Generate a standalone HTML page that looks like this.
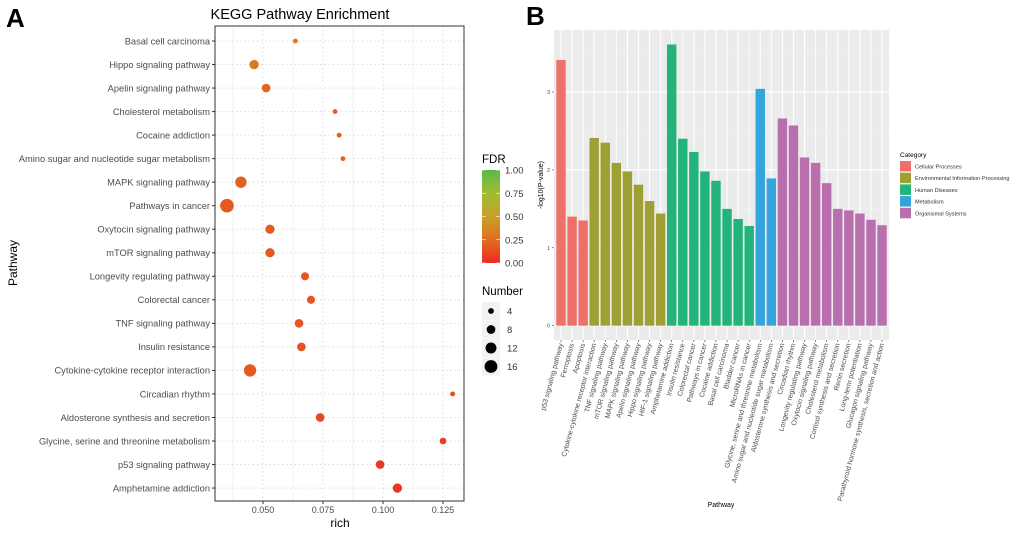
<!DOCTYPE html>
<html><head><meta charset="utf-8">
<style>
html,body{margin:0;padding:0;background:#fff;}
svg{display:block;font-family:"Liberation Sans",Arial,sans-serif;}
</style></head>
<body>
<svg id="c" width="1020" height="535" viewBox="0 0 1020 535" xmlns="http://www.w3.org/2000/svg"></svg>
<script>
// ---- Panel A data ----
const pathwaysA = ["Basal cell carcinoma","Hippo signaling pathway","Apelin signaling pathway","Cholesterol metabolism","Cocaine addiction","Amino sugar and nucleotide sugar metabolism","MAPK signaling pathway","Pathways in cancer","Oxytocin signaling pathway","mTOR signaling pathway","Longevity regulating pathway","Colorectal cancer","TNF signaling pathway","Insulin resistance","Cytokine-cytokine receptor interaction","Circadian rhythm","Aldosterone synthesis and secretion","Glycine, serine and threonine metabolism","p53 signaling pathway","Amphetamine addiction"];
const richA = [0.0635,0.0463,0.0513,0.080,0.0817,0.0833,0.0408,0.035,0.0529,0.0529,0.0675,0.070,0.065,0.066,0.0446,0.129,0.0738,0.125,0.0988,0.106];
const countA = [3,9,8,3,3,3,13,18,9,9,7,7,8,8,15,3,8,5,8,9];
const fdrA = [0.30,0.30,0.22,0.20,0.20,0.20,0.20,0.18,0.18,0.18,0.16,0.16,0.16,0.16,0.18,0.12,0.12,0.08,0.06,0.06];
const xTicksA = [0.050,0.075,0.100,0.125];
const xTickLabelsA = ["0.050","0.075","0.100","0.125"];
const fdrTicks = [0,0.25,0.5,0.75,1];
const fdrTickLabels = ["0.00","0.25","0.50","0.75","1.00"];
const sizeKeys = [4,8,12,16];
// ---- Panel B data ----
const pathwaysB = ["p53 signaling pathway","Ferroptosis","Apoptosis","Cytokine-cytokine receptor interaction","TNF signaling pathway","mTOR signaling pathway","MAPK signaling pathway","Apelin signaling pathway","Hippo signaling pathway","HIF-1 signaling pathway","Amphetamine addiction","Insulin resistance","Colorectal cancer","Pathways in cancer","Cocaine addiction","Basal cell carcinoma","Bladder cancer","MicroRNAs in cancer","Glycine, serine and threonine metabolism","Amino sugar and nucleotide sugar metabolism","Aldosterone synthesis and secretion","Circadian rhythm","Longevity regulating pathway","Oxytocin signaling pathway","Cholesterol metabolism","Cortisol synthesis and secretion","Renin secretion","Long-term potentiation","Glucagon signaling pathway","Parathyroid hormone synthesis, secretion and action"];
const valuesB = [3.41,1.40,1.35,2.41,2.35,2.09,1.98,1.81,1.60,1.44,3.61,2.40,2.23,1.98,1.86,1.50,1.37,1.28,3.04,1.89,2.66,2.57,2.16,2.09,1.83,1.50,1.48,1.44,1.36,1.29];
const categoryB = [0,0,0,1,1,1,1,1,1,1,2,2,2,2,2,2,2,2,3,3,4,4,4,4,4,4,4,4,4,4];
const categoryNames = ["Cellular Processes","Environmental Information Processing","Human Diseases","Metabolism","Organismal Systems"];
const yTicksB = [0,1,2,3];

const NS="http://www.w3.org/2000/svg";
const svg=document.getElementById('c');
function mk(tag,attrs,parent,text){const e=document.createElementNS(NS,tag);for(const k in attrs)e.setAttribute(k,attrs[k]);if(text!==undefined)e.textContent=text;(parent||svg).appendChild(e);return e;}

// Panel labels
let t=mk('text',{x:6,y:27,'font-size':26,'font-weight':'bold',fill:'#000'},svg,'A');


t=mk('text',{x:526,y:25,'font-size':26,'font-weight':'bold',fill:'#000'},svg,'B');



// ===== Panel A =====
const A={l:215,r:464,t:26,b:501};
const xA=v=>263+(v-0.05)*2400;
const yA=i=>41+i*23.53;
const rA=n=>1.75*Math.sqrt(n)-0.6;
function fdrColor(f){
  const stops=[[0,[236,40,36]],[0.25,[226,110,32]],[0.5,[200,160,40]],[0.75,[160,190,50]],[1,[90,185,72]]];
  for(let i=0;i<stops.length-1;i++){const[a,ca]=stops[i],[b,cb]=stops[i+1];if(f<=b){const u=(f-a)/(b-a);return 'rgb('+ca.map((c,j)=>Math.round(c+(cb[j]-c)*u)).join(',')+')';}}
  return 'rgb(90,185,72)';
}
const gA=mk('g',{});


t=mk('text',{x:300,y:19,'font-size':14.5,'text-anchor':'middle',fill:'#000'},gA,'KEGG Pathway Enrichment');


// grid
[0.0375,0.0625,0.0875,0.1125].forEach(v=>{mk('line',{x1:xA(v),x2:xA(v),y1:A.t,y2:A.b,stroke:'#e6e6e6','stroke-width':0.6},gA);});
xTicksA.forEach(v=>{mk('line',{x1:xA(v),x2:xA(v),y1:A.t,y2:A.b,stroke:'#ccc','stroke-width':0.8,'stroke-dasharray':'1.2,3'},gA);});
pathwaysA.forEach((p,i)=>{mk('line',{x1:A.l,x2:A.r,y1:yA(i),y2:yA(i),stroke:'#ccc','stroke-width':0.8,'stroke-dasharray':'1.2,3'},gA);});
mk('rect',{x:A.l,y:A.t,width:A.r-A.l,height:A.b-A.t,fill:'none',stroke:'#333','stroke-width':1},gA);
// y labels
pathwaysA.forEach((p,i)=>{
  mk('line',{x1:A.l-3,x2:A.l,y1:yA(i),y2:yA(i),stroke:'#333'},gA);
  const l=mk('text',{x:A.l-5,y:yA(i)+3.3,'font-size':9.3,'text-anchor':'end',fill:'#4d4d4d'},gA,p);
  
  
});
xTicksA.forEach((v,i)=>{
  mk('line',{x1:xA(v),x2:xA(v),y1:A.b,y2:A.b+3,stroke:'#333'},gA);
  const l=mk('text',{x:xA(v),y:A.b+12,'font-size':9,'text-anchor':'middle',fill:'#4d4d4d'},gA,xTickLabelsA[i]);
  
  
});
t=mk('text',{x:340,y:527,'font-size':12,'text-anchor':'middle',fill:'#000'},gA,'rich');


t=mk('text',{x:0,y:0,'font-size':12,'text-anchor':'middle',fill:'#000',transform:'translate(17,263) rotate(-90)'},gA,'Pathway');


pathwaysA.forEach((p,i)=>{
  const c=mk('circle',{cx:xA(richA[i]),cy:yA(i),r:rA(countA[i]),fill:fdrColor(fdrA[i])},gA);
  
  
});
// FDR legend
const lg=mk('g',{});


mk('text',{x:482,y:163,'font-size':11.5,fill:'#000'},lg,'FDR');
const defs=mk('defs',{});
const grad=mk('linearGradient',{id:'fg',x1:0,y1:1,x2:0,y2:0},defs);
for(let k=0;k<=10;k++){mk('stop',{offset:k/10,'stop-color':fdrColor(k/10)},grad);}
const cbT=170,cbB=263;
mk('rect',{x:482,y:cbT,width:18,height:cbB-cbT,fill:'url(#fg)'},lg);
fdrTicks.forEach((v,i)=>{const y=cbB-v*(cbB-cbT);
  mk('line',{x1:482,x2:486,y1:y,y2:y,stroke:'#fff','stroke-width':0.6},lg);
  mk('line',{x1:496,x2:500,y1:y,y2:y,stroke:'#fff','stroke-width':0.6},lg);
  mk('text',{x:505,y:y+3.5,'font-size':9.5,fill:'#333'},lg,fdrTickLabels[i]);});
const ng=mk('g',{});


mk('text',{x:482,y:295,'font-size':11.5,fill:'#000'},ng,'Number');
sizeKeys.forEach((n,i)=>{const y=311+i*18.5;
  mk('rect',{x:482,y:y-9,width:18,height:18,fill:'#f2f2f2'},ng);
  mk('circle',{cx:491,cy:y,r:rA(n),fill:'#000'},ng);
  mk('text',{x:507,y:y+3.5,'font-size':9.5,fill:'#333'},ng,String(n));});

// ===== Panel B =====
const B={l:554,r:889,t:30,b:340};
const colors=["#ef7068","#9fa033","#22b47a","#33a4dc","#b96fae"];
const y0=325.7, per=77.9;
const yB=v=>y0-v*per;
const xB=i=>561+i*11.07;
const gB=mk('g',{});


mk('rect',{x:B.l,y:B.t,width:B.r-B.l,height:B.b-B.t,fill:'#ebebeb'},gB);
[0.5,1.5,2.5,3.5].forEach(v=>{if(yB(v)>B.t)mk('line',{x1:B.l,x2:B.r,y1:yB(v),y2:yB(v),stroke:'#f5f5f5','stroke-width':0.5},gB);});
yTicksB.forEach(v=>{mk('line',{x1:B.l,x2:B.r,y1:yB(v),y2:yB(v),stroke:'#fff','stroke-width':1},gB);});
pathwaysB.forEach((p,i)=>{mk('line',{x1:xB(i),x2:xB(i),y1:B.t,y2:B.b,stroke:'#fff','stroke-width':1},gB);});
pathwaysB.forEach((p,i)=>{
  const v=valuesB[i];
  const r=mk('rect',{x:xB(i)-4.7,y:yB(v),width:9.4,height:v*per,fill:colors[categoryB[i]]},gB);
  
  
  mk('line',{x1:xB(i),x2:xB(i),y1:B.b,y2:B.b+2,stroke:'#333','stroke-width':0.6},gB);
  const l=mk('text',{x:0,y:0,'font-size':7,'text-anchor':'end',fill:'#4d4d4d',transform:'translate('+(xB(i)+2)+','+(B.b+4)+') rotate(-75)'},gB,p);
  
  
});
yTicksB.forEach(v=>{
  mk('line',{x1:B.l-2,x2:B.l,y1:yB(v),y2:yB(v),stroke:'#333','stroke-width':0.6},gB);
  const l=mk('text',{x:B.l-4,y:yB(v)+2,'font-size':5.5,'text-anchor':'end',fill:'#4d4d4d'},gB,String(v));
  
  
});
t=mk('text',{x:0,y:0,'font-size':7,'text-anchor':'middle',fill:'#000',transform:'translate(543,185) rotate(-90)'},gB,'-log10(P-value)');


t=mk('text',{x:721,y:507,'font-size':7,'text-anchor':'middle',fill:'#000'},gB,'Pathway');


const cl=mk('g',{});


mk('text',{x:900,y:157,'font-size':6.5,fill:'#000'},cl,'Category');
categoryNames.forEach((n,i)=>{const y=161+i*11.7;
  const e=mk('rect',{x:900,y:y,width:11,height:10.5,fill:colors[i]},cl);
  
  
  mk('text',{x:915,y:y+7.5,'font-size':5.6,fill:'#333'},cl,n);});
</script>
</body></html>
